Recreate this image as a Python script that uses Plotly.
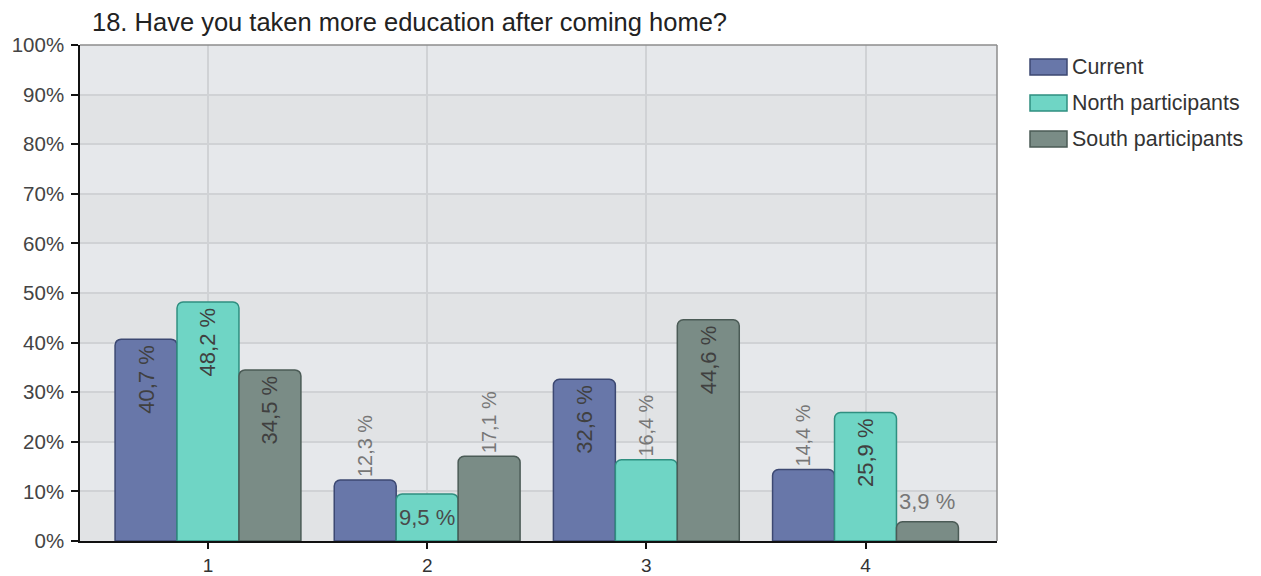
import plotly.graph_objects as go

# ---- data ----
categories = ["1", "2", "3", "4"]
series_names = ["Current", "North participants", "South participants"]
current = [40.7, 12.3, 32.6, 14.4]
north = [48.2, 9.5, 16.4, 25.9]
south = [34.5, 17.1, 44.6, 3.9]
y_ticks = [0, 10, 20, 30, 40, 50, 60, 70, 80, 90, 100]
title_text = "18. Have you taken more education after coming home?"

series_values = [current, north, south]
# label placement: "in" = rotated inside, "out" = rotated above, "hin" = horizontal inside, "hout" = horizontal above
label_modes = [
    ["in", "out", "in", "out"],
    ["in", "hin", "out", "in"],
    ["in", "out", "in", "hout"],
]
fill_colors = ["#6877a9", "#6fd5c5", "#7a8c86"]
line_colors = ["#3c4872", "#2f8f80", "#4b5b56"]

W, H = 1261, 576
L, R, T, B = 80, 264, 45, 35
FONT = "Liberation Sans, Arial, sans-serif"
LBL = 22

BARGAP = 0.152
x_pos = list(range(1, len(categories) + 1))
bar_w = (1 - BARGAP) / len(series_names)


def fmt(v):
    return f"{v:.1f}".replace(".", ",") + " %"


fig = go.Figure()
annotations = []
for si, (name, vals) in enumerate(zip(series_names, series_values)):
    texts, positions = [], []
    for ci, v in enumerate(vals):
        mode = label_modes[si][ci]
        if mode in ("in", "out"):
            texts.append(fmt(v))
            positions.append("inside" if mode == "in" else "outside")
        else:
            texts.append("")
            positions.append("none")
            xc = x_pos[ci] + (si - 1) * bar_w
            if mode == "hin":
                annotations.append(dict(x=xc, y=v / 2, xref="x", yref="y", text=fmt(v),
                                        showarrow=False, xanchor="center", yanchor="middle",
                                        font=dict(family=FONT, size=LBL, color="#4a4a4a")))
            else:
                annotations.append(dict(x=xc, y=v, xref="x", yref="y", text=fmt(v),
                                        showarrow=False, xanchor="center", yanchor="bottom",
                                        yshift=6,
                                        font=dict(family=FONT, size=LBL, color="#777777")))
    fig.add_trace(go.Bar(
        x=x_pos, y=vals, name=name, showlegend=False,
        marker=dict(color=fill_colors[si], line=dict(color=line_colors[si], width=1.5),
                    cornerradius=6),
        text=texts, textposition=positions, textangle=-90,
        insidetextanchor="end", cliponaxis=False,
        insidetextfont=dict(family=FONT, size=LBL, color="#404040"),
        outsidetextfont=dict(family=FONT, size=LBL, color="#777777"),
        hoverinfo="skip",
    ))

# alternating background bands
shapes = []
for i in range(len(y_ticks) - 1):
    shapes.append(dict(type="rect", xref="paper", yref="y", x0=0, x1=1,
                       y0=y_ticks[i], y1=y_ticks[i + 1], layer="below", line=dict(width=0),
                       fillcolor="#e6e8eb" if i % 2 == 1 else "#e1e3e5"))
# top and right gray border
shapes.append(dict(type="line", xref="paper", yref="paper", x0=0, x1=1, y0=1, y1=1,
                   line=dict(color="#8c8c8c", width=1.5)))
shapes.append(dict(type="line", xref="paper", yref="paper", x0=1, x1=1, y0=0, y1=1,
                   line=dict(color="#8c8c8c", width=1.5)))

# custom legend (pixel -> paper helpers)
pw, ph = W - L - R, H - T - B


def px_x(px):
    return (px - L) / pw


def px_y(py):
    return (H - B - py) / ph


for si, name in enumerate(series_names):
    yc = 67 + 36 * si
    shapes.append(dict(type="rect", xref="paper", yref="paper",
                       x0=px_x(1030), x1=px_x(1067), y0=px_y(yc - 8), y1=px_y(yc + 8),
                       fillcolor=fill_colors[si], line=dict(color=line_colors[si], width=1.5)))
    annotations.append(dict(x=px_x(1070), y=px_y(yc), xref="paper", yref="paper", text=name,
                            showarrow=False, xanchor="left", yanchor="middle",
                            font=dict(family=FONT, size=21.4, color="#333333")))

fig.update_layout(
    width=W, height=H,
    margin=dict(l=L, r=R, t=T, b=B, autoexpand=False),
    paper_bgcolor="white", plot_bgcolor="#e4e6e9",
    barmode="group", bargap=BARGAP, bargroupgap=0,
    title=dict(text=title_text, xref="container", yref="container",
               x=92 / W, xanchor="left", y=1 - 22 / H, yanchor="middle",
               font=dict(family=FONT, size=25.5, color="#222222")),
    xaxis=dict(range=[0.416, 4.6], tickvals=x_pos, ticktext=categories,
               automargin=False,
               showgrid=True, gridcolor="#d0d2d5", gridwidth=1.5,
               showline=True, linecolor="#111111", linewidth=1.5,
               ticks="outside", ticklen=6, tickcolor="#111111", tickwidth=1.5,
               tickfont=dict(family=FONT, size=19, color="#333333"), zeroline=False),
    yaxis=dict(range=[0, 100], tickvals=y_ticks, ticktext=[f"{t}%" for t in y_ticks],
               automargin=False,
               showgrid=True, gridcolor="#d0d2d5", gridwidth=1.5,
               showline=True, linecolor="#111111", linewidth=1.5,
               ticks="outside", ticklen=7, tickcolor="#111111", tickwidth=1.5,
               ticklabelstandoff=3,
               tickfont=dict(family=FONT, size=20.5, color="#444444"), zeroline=False),
    shapes=shapes, annotations=annotations,
    uniformtext=dict(mode=False),
)

fig.write_html("out.html")
